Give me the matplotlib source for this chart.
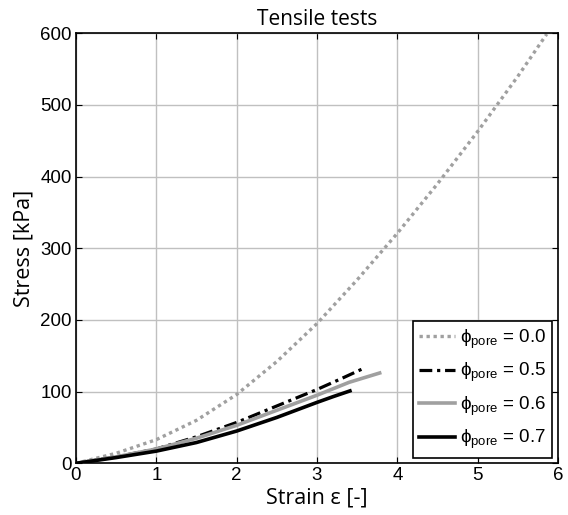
import numpy as np
import matplotlib
matplotlib.use('Agg')
import matplotlib.pyplot as plt

# strain [-] and stress [kPa]
strain_00 = [0, 0.5, 1.0, 1.5, 2.0, 2.5, 3.0, 3.5, 4.0, 4.5, 5.0, 5.5, 5.86]
stress_00 = [0, 14, 33, 60, 96, 142, 195, 256, 321, 390, 463, 540, 599]

strain_05 = [0, 0.5, 1.0, 1.5, 2.0, 2.5, 3.0, 3.3, 3.59]
stress_05 = [0, 9, 20, 37, 57, 80, 103, 118, 133]

strain_06 = [0, 0.5, 1.0, 1.5, 2.0, 2.5, 3.0, 3.4, 3.78]
stress_06 = [0, 9, 20, 35, 53, 74, 95, 113, 126]

strain_07 = [0, 0.5, 1.0, 1.5, 2.0, 2.5, 3.0, 3.2, 3.41]
stress_07 = [0, 8, 17, 29, 45, 64, 85, 93, 101]

labels = ['0.0', '0.5', '0.6', '0.7']

plt.rcParams['mathtext.fontset'] = 'custom'
plt.rcParams['mathtext.rm'] = 'Liberation Sans'
plt.rcParams['mathtext.it'] = 'Liberation Sans'

fig = plt.figure(figsize=(5.68, 5.15), dpi=100)
ax = fig.add_axes([0.1338, 0.1004, 0.8486, 0.8349])

lab = r'$\mathregular{\phi_{pore}}$ = '
ax.plot(strain_00, stress_00, color='#a0a0a0', lw=2.4, ls=(0, (1, 1.1)),
        label=lab + labels[0])
ax.plot(strain_05, stress_05, color='black', lw=2.3, ls=(0, (4, 1.5, 1, 1.5)),
        label=lab + labels[1])
ax.plot(strain_06, stress_06, color='#a0a0a0', lw=2.6, ls='-',
        label=lab + labels[2])
ax.plot(strain_07, stress_07, color='black', lw=2.6, ls='-',
        label=lab + labels[3])

ax.set_xlim(0, 6)
ax.set_ylim(0, 600)
ax.set_xticks(range(0, 7))
ax.set_yticks(range(0, 700, 100))
ax.grid(True, color='#c0c0c0', lw=1)
ax.set_axisbelow(True)
ax.tick_params(direction='in', top=True, right=True, length=4,
               labelsize=13.5, pad=3)
for t in ax.get_xticklabels() + ax.get_yticklabels():
    t.set_family('Liberation Sans')
for sp in ax.spines.values():
    sp.set_linewidth(1.2)

ax.set_title('Tensile tests', family='Open Sans', fontsize=15, pad=6)
ax.set_xlabel('Strain ε [-]', family='Open Sans', fontsize=15.5, labelpad=2)
ax.set_ylabel('Stress [kPa]', family='Open Sans', fontsize=15.5, labelpad=4)

leg = ax.legend(loc='lower right', prop={'family': 'Liberation Sans', 'size': 13.5},
                fancybox=False, framealpha=1, edgecolor='black',
                handlelength=1.9, handletextpad=0.25, borderaxespad=0.3,
                labelspacing=0.55, borderpad=0.35)
leg.get_frame().set_linewidth(1.2)

fig.savefig('out.png', dpi=100)
